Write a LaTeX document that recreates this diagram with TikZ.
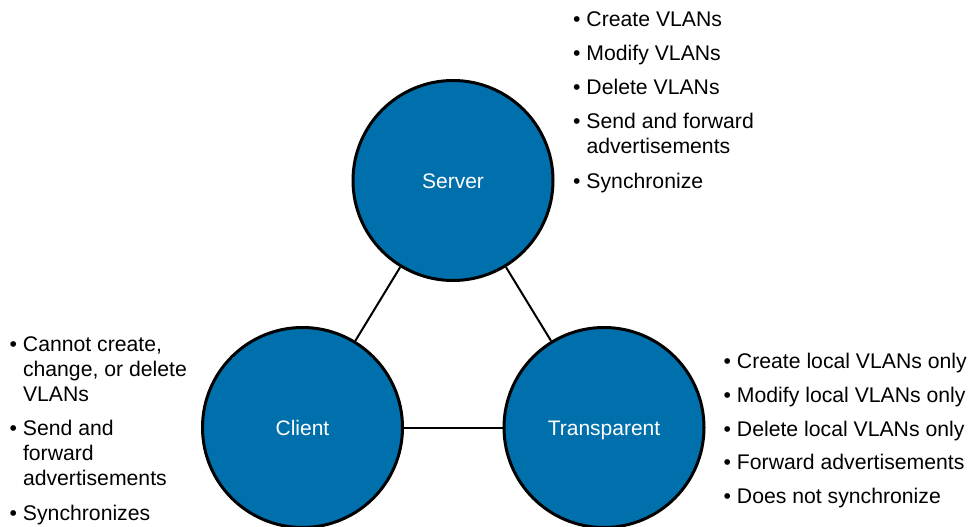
\documentclass[tikz,border=0pt]{standalone}
\usepackage{fontspec}
\setmainfont{Liberation Sans}
\definecolor{vtpblue}{RGB}{0,112,173}
\begin{document}
\begin{tikzpicture}[x=1pt,y=-1pt,
  mode/.style={circle,draw=black,line width=3pt,fill=vtpblue,minimum size=200pt,inner sep=0pt,
    text=white,text height=15pt,text depth=0pt,font=\fontsize{21}{25}\selectfont},
  link/.style={draw=black,line width=2pt},
  list/.style={anchor=base west,inner sep=0pt,font=\fontsize{21.2}{25}\selectfont,text=black}]
\path[use as bounding box] (0,0) rectangle (970,527);
\node[mode] (server) at (453,180.5) {Server};
\node[mode] (client) at (302.5,427.5) {Client};
\node[mode] (transp) at (604,427.5) {Transparent};
\draw[link] (server) -- (client);
\draw[link] (server) -- (transp);
\draw[link] (client) -- (transp);
\node[list] (slist) at (573,26.5) {\begin{tabular}[t]{@{}l@{ }l@{}}
\textbullet & Create VLANs\\[9pt]
\textbullet & Modify VLANs\\[9pt]
\textbullet & Delete VLANs\\[9pt]
\textbullet & Send and forward\\
 & advertisements\\[10pt]
\textbullet & Synchronize
\end{tabular}};
\node[list] (clist) at (9.5,351.5) {\begin{tabular}[t]{@{}l@{ }l@{}}
\textbullet & Cannot create,\\
 & change, or delete\\
 & VLANs\\[9pt]
\textbullet & Send and\\
 & forward\\
 & advertisements\\[10pt]
\textbullet & Synchronizes
\end{tabular}};
\node[list] (tlist) at (723.5,368.5) {\begin{tabular}[t]{@{}l@{ }l@{}}
\textbullet & Create local VLANs only\\[9pt]
\textbullet & Modify local VLANs only\\[9pt]
\textbullet & Delete local VLANs only\\[8pt]
\textbullet & Forward advertisements\\[9pt]
\textbullet & Does not synchronize
\end{tabular}};
\end{tikzpicture}
\end{document}
